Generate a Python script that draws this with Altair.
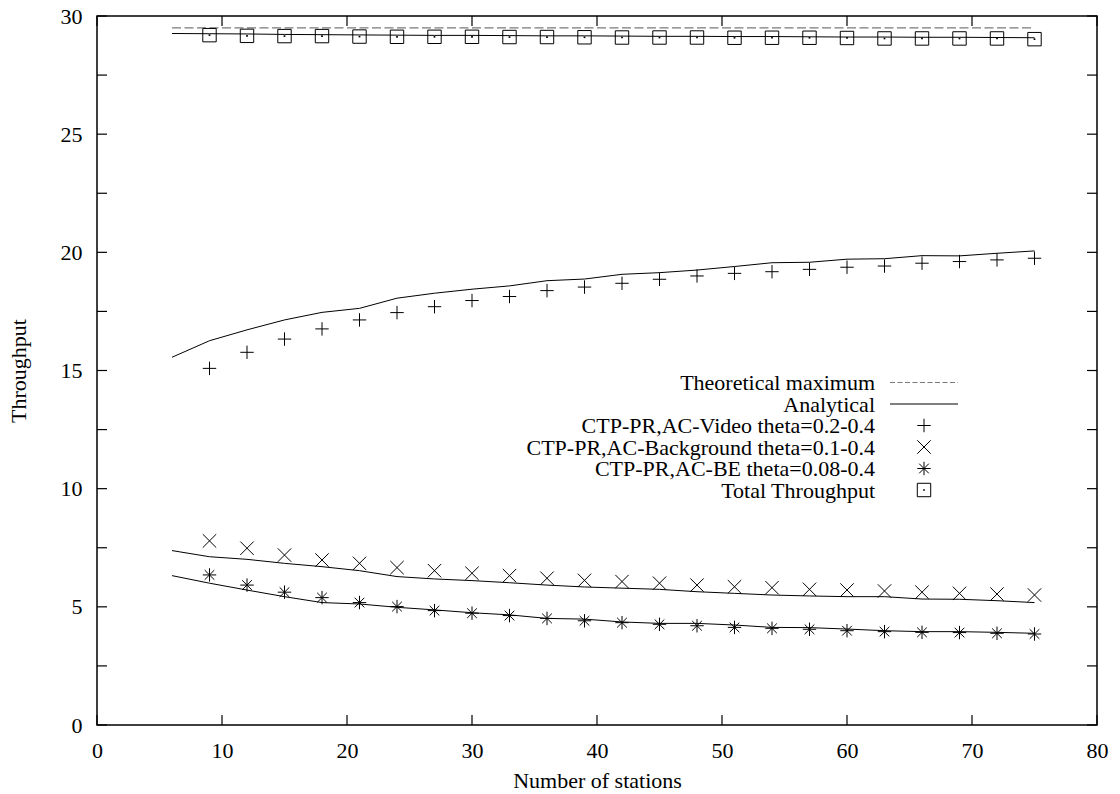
import altair as alt
import pandas as pd

# ---------------- data ----------------
x_marks = [9, 12, 15, 18, 21, 24, 27, 30, 33, 36, 39, 42, 45, 48, 51, 54, 57, 60, 63, 66, 69, 72, 75]
x_line = [6, 9, 12, 15, 18, 21, 24, 27, 30, 33, 36, 39, 42, 45, 48, 51, 54, 57, 60, 63, 66, 69, 72, 75]

theo_x = [6, 75]
theo_y = [29.5, 29.5]

video_pts = [15.09, 15.77, 16.33, 16.76, 17.14, 17.45, 17.70, 17.96, 18.13, 18.38, 18.53, 18.69,
             18.86, 19.00, 19.11, 19.18, 19.28, 19.37, 19.42, 19.54, 19.61, 19.68, 19.75]
video_line = [15.56, 16.26, 16.72, 17.14, 17.46, 17.63, 18.06, 18.27, 18.44, 18.58, 18.80, 18.87,
              19.07, 19.14, 19.25, 19.40, 19.56, 19.58, 19.71, 19.73, 19.86, 19.85, 19.96, 20.06]

bg_pts = [7.79, 7.48, 7.19, 6.98, 6.84, 6.66, 6.53, 6.42, 6.32, 6.21, 6.12, 6.07,
          6.00, 5.92, 5.85, 5.81, 5.74, 5.71, 5.67, 5.62, 5.57, 5.54, 5.50]
bg_line = [7.38, 7.12, 7.01, 6.84, 6.70, 6.53, 6.28, 6.18, 6.11, 6.02, 5.92, 5.84,
           5.79, 5.74, 5.64, 5.57, 5.50, 5.46, 5.43, 5.43, 5.33, 5.32, 5.26, 5.18]

be_pts = [6.35, 5.92, 5.62, 5.39, 5.18, 5.01, 4.84, 4.73, 4.63, 4.51, 4.41, 4.33,
          4.26, 4.20, 4.13, 4.09, 4.05, 3.99, 3.95, 3.92, 3.91, 3.88, 3.85]
be_line = [6.32, 6.00, 5.71, 5.43, 5.18, 5.12, 4.98, 4.87, 4.75, 4.66, 4.51, 4.48,
           4.36, 4.30, 4.30, 4.23, 4.13, 4.12, 4.06, 3.99, 3.95, 3.95, 3.92, 3.88]

total_pts = [29.19, 29.16, 29.15, 29.15, 29.13, 29.12, 29.12, 29.12, 29.11, 29.11, 29.10, 29.09,
             29.09, 29.09, 29.08, 29.08, 29.08, 29.07, 29.05, 29.05, 29.05, 29.05, 29.02]
total_line = [29.26, 29.25, 29.24, 29.22, 29.21, 29.20, 29.19, 29.18, 29.18, 29.17, 29.16, 29.16,
              29.15, 29.14, 29.14, 29.13, 29.13, 29.12, 29.11, 29.11, 29.10, 29.10, 29.09, 29.08]

legend_labels = ["Theoretical maximum", "Analytical", "CTP-PR,AC-Video theta=0.2-0.4",
                 "CTP-PR,AC-Background theta=0.1-0.4", "CTP-PR,AC-BE theta=0.08-0.4",
                 "Total Throughput"]

x_ticks = [0, 10, 20, 30, 40, 50, 60, 70, 80]
y_labels = [0, 5, 10, 15, 20, 25, 30]
y_ticks = [0, 2.5, 5, 7.5, 10, 12.5, 15, 17.5, 20, 22.5, 25, 27.5, 30]

# ---------------- tables ----------------
series_names = legend_labels[2:]
pts_df = pd.concat([
    pd.DataFrame({"x": x_marks, "y": vals, "series": name})
    for name, vals in zip(series_names, [video_pts, bg_pts, be_pts, total_pts])
])
lines_df = pd.concat([
    pd.DataFrame({"x": x_line, "y": vals, "series": name})
    for name, vals in zip(["video", "bg", "be", "total"], [video_line, bg_line, be_line, total_line])
])
theo_df = pd.DataFrame({"x": theo_x, "y": theo_y})
legend_df = pd.DataFrame({"label": legend_labels, "row": list(range(len(legend_labels)))})
xt_df = pd.DataFrame({"x": x_ticks})
yt_df = pd.DataFrame({"y": y_ticks})

W, H = 1000, 709
FONT = "Liberation Serif"

PLUS = "M-1,0L1,0M0,-1L0,1"
CROSS = "M-1,-1L1,1M-1,1L1,-1"
STAR = "M-1,0L1,0M0,-1L0,1M-0.72,-0.72L0.72,0.72M-0.72,0.72L0.72,-0.72"
BOX = "M-1,-1L1,-1L1,1L-1,1Z"

xs = alt.Scale(domain=[0, 80], nice=False, zero=False)
ys = alt.Scale(domain=[0, 30], nice=False, zero=False)

shape_scale = alt.Scale(domain=series_names, range=[PLUS, CROSS, STAR, BOX])
size_scale = alt.Scale(domain=series_names, range=[180, 180, 180, 230])

x_axis = alt.Axis(values=x_ticks, title="Number of stations", labelFlush=False, labelOverlap=False,
                  labelBaseline="alphabetic", labelPadding=32,
                  titleX=500, titleY=62, titleBaseline="alphabetic", titleAnchor="middle")
y_axis = alt.Axis(values=y_labels, title="Throughput", labelFlush=False, labelOverlap=False,
                  labelPadding=15, titleAngle=270, titleX=-72, titleY=354.5,
                  titleBaseline="alphabetic", titleAlign="center")


def X(field="x"):
    return alt.X(f"{field}:Q", scale=xs, axis=x_axis, title="Number of stations")


def Y(field="y"):
    return alt.Y(f"{field}:Q", scale=ys, axis=y_axis, title="Throughput")


# analytical lines
lines = alt.Chart(lines_df).mark_line(color="black", strokeWidth=1).encode(
    x=X(), y=Y(), detail="series:N",
)

theo = alt.Chart(theo_df).mark_line(color="#7a7a7a", strokeWidth=1.2, strokeDash=[9, 3.5]).encode(
    x=X(), y=Y(),
)

points = alt.Chart(pts_df).mark_point(filled=False, color="black", strokeWidth=1, opacity=1).encode(
    x=X(), y=Y(),
    shape=alt.Shape("series:N", scale=shape_scale, legend=None),
    size=alt.Size("series:N", scale=size_scale, legend=None),
)

dots = alt.Chart(pts_df).transform_filter(
    alt.datum.series == "Total Throughput"
).mark_point(filled=True, shape="square", size=3, color="black", opacity=1).encode(
    x=X(), y=Y(),
)

# inside ticks on all four sides
tick_len = 10
tick_style = dict(color="black", strokeWidth=1.2)
xt_bottom = alt.Chart(xt_df).mark_rule(**tick_style).encode(
    x=X(), y=alt.value(H), y2=alt.value(H - tick_len))
xt_top = alt.Chart(xt_df).mark_rule(**tick_style).encode(
    x=X(), y=alt.value(0), y2=alt.value(tick_len))
yt_left = alt.Chart(yt_df).mark_rule(**tick_style).encode(
    y=Y(), x=alt.value(0), x2=alt.value(tick_len))
yt_right = alt.Chart(yt_df).mark_rule(**tick_style).encode(
    y=Y(), x=alt.value(W), x2=alt.value(W - tick_len))

# legend (gnuplot style: text right-aligned, sample to the right)
leg_base = alt.Chart(legend_df).transform_calculate(
    ty="374 + 21.5 * datum.row",
    sy="374 + 21.5 * datum.row - 7.5",
)
leg_text = leg_base.mark_text(align="right", baseline="alphabetic", font=FONT, fontSize=22,
                              color="black").encode(
    x=alt.value(778), y=alt.Y("ty:Q", scale=None), text="label:N")
leg_dash = leg_base.transform_filter(alt.datum.row == 0).mark_rule(
    color="#7a7a7a", strokeWidth=1.2, strokeDash=[5, 2.5]).encode(
    x=alt.value(793), x2=alt.value(861), y=alt.Y("sy:Q", scale=None))
leg_solid = leg_base.transform_filter(alt.datum.row == 1).mark_rule(
    color="black", strokeWidth=1).encode(
    x=alt.value(793), x2=alt.value(861), y=alt.Y("sy:Q", scale=None))
leg_sym = leg_base.transform_filter(alt.datum.row >= 2).transform_calculate(
    series="datum.label").mark_point(filled=False, color="black", strokeWidth=1, opacity=1).encode(
    x=alt.value(827), y=alt.Y("sy:Q", scale=None),
    shape=alt.Shape("series:N", scale=shape_scale, legend=None),
    size=alt.Size("series:N", scale=size_scale, legend=None))
leg_dot = leg_base.transform_filter(alt.datum.row == 5).mark_point(
    filled=True, shape="square", size=3, color="black", opacity=1).encode(
    x=alt.value(827), y=alt.Y("sy:Q", scale=None))

chart = alt.layer(
    lines, theo, points, dots, xt_bottom, xt_top, yt_left, yt_right,
    leg_text, leg_dash, leg_solid, leg_sym, leg_dot,
).properties(
    width=W, height=H,
    padding={"left": 97, "top": 16, "right": 23, "bottom": 69},
    autosize=alt.AutoSizeParams(type="none"),
    background="white",
).configure_view(
    stroke="black", strokeWidth=1.5,
).configure_axis(
    domain=False, ticks=False, grid=False,
    labelFont=FONT, titleFont=FONT, labelFontSize=22, titleFontSize=22,
    titleFontWeight="normal", labelColor="black", titleColor="black",
)

chart.save("out.html", embed_options={"renderer": "svg", "actions": False})
